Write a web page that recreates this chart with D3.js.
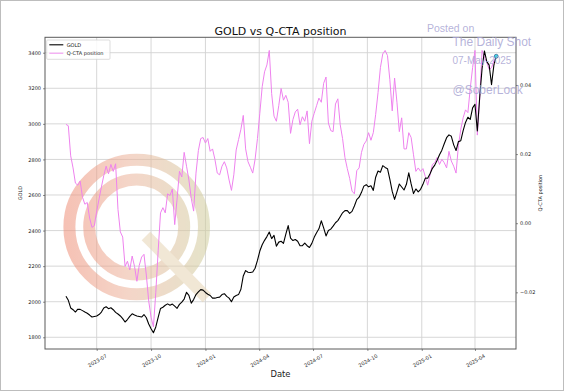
<!DOCTYPE html>
<html><head><meta charset="utf-8">
<script src="https://cdn.jsdelivr.net/npm/d3@7"></script>
<style>body{margin:0;background:#fff}svg{display:block}</style>
</head><body><svg id="c" width="564" height="391"></svg>
<script>
const dates = [
"2023-05-10","2023-05-14","2023-05-18","2023-05-22","2023-05-26","2023-05-30",
"2023-06-03","2023-06-07","2023-06-11","2023-06-15","2023-06-19","2023-06-23","2023-06-27",
"2023-07-01","2023-07-05","2023-07-09","2023-07-13","2023-07-17","2023-07-21","2023-07-25","2023-07-29",
"2023-08-02","2023-08-06","2023-08-10","2023-08-14","2023-08-18","2023-08-22","2023-08-26","2023-08-30",
"2023-09-03","2023-09-07","2023-09-11","2023-09-15","2023-09-19","2023-09-23","2023-09-27",
"2023-10-01","2023-10-05","2023-10-09","2023-10-13","2023-10-17","2023-10-21","2023-10-25","2023-10-29",
"2023-11-02","2023-11-06","2023-11-10","2023-11-14","2023-11-18","2023-11-22","2023-11-26","2023-11-30",
"2023-12-04","2023-12-08","2023-12-12","2023-12-16","2023-12-20","2023-12-24","2023-12-28",
"2024-01-01","2024-01-05","2024-01-09","2024-01-13","2024-01-17","2024-01-21","2024-01-25","2024-01-29",
"2024-02-02","2024-02-06","2024-02-10","2024-02-14","2024-02-18","2024-02-22","2024-02-26",
"2024-03-01","2024-03-05","2024-03-09","2024-03-13","2024-03-17","2024-03-21","2024-03-25","2024-03-29",
"2024-04-02","2024-04-06","2024-04-10","2024-04-14","2024-04-18","2024-04-22","2024-04-26","2024-04-30",
"2024-05-04","2024-05-08","2024-05-12","2024-05-16","2024-05-20","2024-05-24","2024-05-28",
"2024-06-01","2024-06-05","2024-06-09","2024-06-13","2024-06-17","2024-06-21","2024-06-25","2024-06-29",
"2024-07-03","2024-07-07","2024-07-11","2024-07-15","2024-07-19","2024-07-23","2024-07-27","2024-07-31",
"2024-08-04","2024-08-08","2024-08-12","2024-08-16","2024-08-20","2024-08-24","2024-08-28",
"2024-09-01","2024-09-05","2024-09-09","2024-09-13","2024-09-17","2024-09-21","2024-09-25","2024-09-29",
"2024-10-03","2024-10-07","2024-10-11","2024-10-15","2024-10-19","2024-10-23","2024-10-27","2024-10-31",
"2024-11-04","2024-11-08","2024-11-12","2024-11-16","2024-11-20","2024-11-24","2024-11-28",
"2024-12-02","2024-12-06","2024-12-10","2024-12-14","2024-12-18","2024-12-22","2024-12-26","2024-12-30",
"2025-01-03","2025-01-07","2025-01-11","2025-01-15","2025-01-19","2025-01-23","2025-01-27","2025-01-31",
"2025-02-04","2025-02-08","2025-02-12","2025-02-16","2025-02-20","2025-02-24","2025-02-28",
"2025-03-04","2025-03-08","2025-03-12","2025-03-16","2025-03-20","2025-03-24","2025-03-28",
"2025-04-01","2025-04-05","2025-04-09","2025-04-13","2025-04-17","2025-04-21","2025-04-25","2025-04-29",
"2025-05-03","2025-05-07"];

const goldValues = [
2031,2008,1965,1955,1942,1958,1957,1950,1942,1935,
1925,1914,1917,1920,1928,1942,1965,1972,1961,1966,
1955,1940,1931,1920,1905,1886,1900,1918,1932,1925,
1920,1917,1914,1928,1910,1875,1848,1826,1858,1912,
1962,1969,1980,1988,1980,1987,1975,1963,1985,1998,
2015,2053,2036,1992,2012,2040,2055,2068,2065,2052,
2042,2035,2020,2020,2024,2026,2040,2045,2030,2020,
2000,2027,2035,2040,2070,2145,2175,2166,2164,2167,
2188,2232,2285,2320,2345,2366,2392,2355,2373,2312,
2335,2340,2328,2380,2428,2358,2344,2350,2340,2315,
2315,2330,2315,2305,2328,2362,2388,2410,2455,2415,
2370,2400,2408,2425,2444,2456,2478,2500,2512,2512,
2497,2508,2538,2574,2588,2615,2650,2658,2646,2652,
2626,2700,2735,2728,2765,2755,2748,2688,2620,2575,
2618,2662,2645,2628,2660,2725,2662,2608,2634,2618,
2632,2660,2695,2694,2720,2750,2768,2795,2826,2852,
2888,2922,2938,2930,2882,2850,2900,2905,2962,3008,
3037,3025,3090,3110,2960,3150,3310,3410,3350,3330,
3220,3330,3380];

const qctaValues = [
0.0286,0.0282,0.0195,0.0160,0.0116,0.0110,0.0122,0.0075,0.0055,0.0060,
0.0015,-0.0012,-0.0007,0.0035,0.0070,0.0105,0.0138,0.0165,0.0143,0.0170,
0.0150,0.0172,0.0040,-0.0025,-0.0040,-0.0125,-0.0110,-0.0135,-0.0095,-0.0125,
-0.0168,-0.0122,-0.0098,-0.0090,-0.0150,-0.0225,-0.0272,-0.0300,-0.0200,-0.0080,
0.0030,0.0045,0.0030,0.0085,0.0080,0.0099,-0.0004,0.0070,0.0150,0.0134,
0.0205,0.0165,0.0125,0.0072,0.0035,0.0145,0.0210,0.0245,0.0248,0.0232,
0.0245,0.0208,0.0215,0.0185,0.0145,0.0140,0.0165,0.0178,0.0160,0.0125,
0.0095,0.0140,0.0212,0.0242,0.0272,0.0312,0.0215,0.0178,0.0162,0.0145,
0.0185,0.0245,0.0318,0.0395,0.0438,0.0458,0.0500,0.0375,0.0310,0.0295,
0.0340,0.0390,0.0356,0.0370,0.0350,0.0260,0.0300,0.0322,0.0330,0.0285,
0.0308,0.0295,0.0325,0.0230,0.0295,0.0318,0.0340,0.0362,0.0350,0.0405,
0.0423,0.0290,0.0268,0.0265,0.0345,0.0360,0.0285,0.0245,0.0190,0.0158,
0.0130,0.0093,0.0085,0.0152,0.0160,0.0205,0.0228,0.0238,0.0262,0.0240,
0.0262,0.0315,0.0378,0.0450,0.0490,0.0500,0.0485,0.0415,0.0325,0.0420,
0.0350,0.0265,0.0305,0.0215,0.0215,0.0262,0.0248,0.0198,0.0150,0.0160,
0.0150,0.0158,0.0135,0.0110,0.0140,0.0170,0.0175,0.0190,0.0170,0.0185,
0.0175,0.0160,0.0208,0.0180,0.0165,0.0145,0.0225,0.0272,0.0305,0.0328,
0.0320,0.0390,0.0450,0.0500,0.0255,0.0360,0.0500,0.0480,0.0465,0.0445,
0.0450,0.0470,0.0481];

const goldTicks = [1800,2000,2200,2400,2600,2800,3000,3200,3400];
const qctaTicks = [-0.02,0,0.02,0.04];
const dateTicks = ["2023-07-01","2023-10-01","2024-01-01","2024-04-01","2024-07-01","2024-10-01","2025-01-01","2025-04-01"];
const seriesNames = ["GOLD","Q-CTA position"];

// ---- layout ----
const W = 564, H = 391;
const L = 45, R = 516, T = 37.3, B = 349;
const FONT = "DejaVu Sans, sans-serif";
const WM = "Liberation Sans, Arial, sans-serif";

const parse = d3.utcParse("%Y-%m-%d");
const data = dates.map((d,i)=>({date: parse(d), gold: goldValues[i], q: qctaValues[i]}));

const x = d3.scaleUtc()
  .domain([new Date(Date.UTC(2023,3,4,13)), new Date(Date.UTC(2025,5,9,10))])
  .range([L, R]);
const yG = d3.scaleLinear().domain([1734.2, 3486.6]).range([B, T]);
const yQ = d3.scaleLinear().domain([-0.0364, 0.0538]).range([B, T]);

const svg = d3.select("#c");
svg.append("rect").attr("x",0).attr("y",0).attr("width",W).attr("height",H).attr("fill","#fff");
svg.append("rect").attr("x",0.5).attr("y",0.5).attr("width",W-1).attr("height",H-1)
  .attr("fill","none").attr("stroke","#bdbdbd").attr("stroke-width",1);

const defs = svg.append("defs");
defs.append("clipPath").attr("id","plot").append("rect")
  .attr("x",L).attr("y",T).attr("width",R-L).attr("height",B-T);
const grad = defs.append("linearGradient").attr("id","wmg")
  .attr("gradientUnits","userSpaceOnUse").attr("x1",63).attr("y1",0).attr("x2",212).attr("y2",0);
grad.append("stop").attr("offset","0%").attr("stop-color","#ef8f78");
grad.append("stop").attr("offset","45%").attr("stop-color","#ecb49c");
grad.append("stop").attr("offset","100%").attr("stop-color","#cfcf9e");

// grid
const grid = svg.append("g");
grid.selectAll("line.h").data(goldTicks).join("line")
  .attr("x1",L).attr("x2",R).attr("y1",d=>yG(d)).attr("y2",d=>yG(d))
  .attr("stroke","#d2d2d2").attr("stroke-width",0.9);
grid.selectAll("line.v").data(dateTicks).join("line")
  .attr("y1",T).attr("y2",B).attr("x1",d=>x(parse(d))).attr("x2",d=>x(parse(d)))
  .attr("stroke","#d2d2d2").attr("stroke-width",0.9);

// watermark logo
const logo = svg.append("g").attr("opacity",0.55);
logo.append("circle").attr("cx",136.7).attr("cy",227).attr("r",67.3)
  .attr("fill","none").attr("stroke","url(#wmg)").attr("stroke-width",12);
logo.append("circle").attr("cx",136.7).attr("cy",227).attr("r",47.5)
  .attr("fill","none").attr("stroke","url(#wmg)").attr("stroke-width",12);
logo.append("line").attr("x1",146).attr("y1",236).attr("x2",207).attr("y2",298)
  .attr("stroke","#e6d4b4").attr("stroke-width",12);

// lines
const plot = svg.append("g").attr("clip-path","url(#plot)");
plot.append("path").datum(data)
  .attr("fill","none").attr("stroke","#ee82ee").attr("stroke-width",1)
  .attr("stroke-linejoin","round")
  .attr("d", d3.line().x(d=>x(d.date)).y(d=>yQ(d.q)));
plot.append("path").datum(data)
  .attr("fill","none").attr("stroke","#000").attr("stroke-width",1.1)
  .attr("stroke-linejoin","round")
  .attr("d", d3.line().x(d=>x(d.date)).y(d=>yG(d.gold)));
const last = data[data.length-1];
plot.append("circle").attr("cx",x(last.date)).attr("cy",yG(last.gold)).attr("r",2)
  .attr("fill","#3fd6e6").attr("stroke","#1a2a6a").attr("stroke-width",0.5);

// spines
svg.append("rect").attr("x",L).attr("y",T).attr("width",R-L).attr("height",B-T)
  .attr("fill","none").attr("stroke","#5a5a5a").attr("stroke-width",1);

// axes
function styleAxis(g){
  g.select(".domain").remove();
  g.selectAll(".tick line").attr("stroke","#444").attr("stroke-width",0.6);
  g.selectAll("text").attr("font-family",FONT).attr("font-size",5).attr("fill","#222");
}
svg.append("g").attr("transform",`translate(${L},0)`)
  .call(d3.axisLeft(yG).tickValues(goldTicks).tickSize(2).tickPadding(2).tickFormat(d3.format("d")))
  .call(styleAxis);
svg.append("g").attr("transform",`translate(${R},0)`)
  .call(d3.axisRight(yQ).tickValues(qctaTicks).tickSize(2).tickPadding(2).tickFormat(d3.format(".2f")))
  .call(styleAxis);
const xa = svg.append("g").attr("transform",`translate(0,${B})`)
  .call(d3.axisBottom(x).tickValues(dateTicks.map(parse)).tickSize(2).tickFormat(d3.utcFormat("%Y-%m")))
  .call(styleAxis);
xa.selectAll(".tick text").attr("y",0).attr("dy",null)
  .attr("dominant-baseline","central").attr("text-anchor","middle")
  .attr("transform","translate(0,11.5) rotate(-30)");

// labels
svg.append("text").attr("x",(L+R)/2).attr("y",35).attr("text-anchor","middle")
  .attr("font-family",FONT).attr("font-size",11).attr("fill","#111").text("GOLD vs Q-CTA position");
svg.append("text").attr("x",(L+R)/2).attr("y",377.3).attr("text-anchor","middle")
  .attr("font-family",FONT).attr("font-size",8.4).attr("fill","#222").text("Date");
svg.append("text").attr("transform",`translate(22,${(T+B)/2}) rotate(-90)`).attr("text-anchor","middle")
  .attr("font-family",FONT).attr("font-size",5).attr("fill","#222").text(seriesNames[0]);
svg.append("text").attr("transform",`translate(542,${(T+B)/2}) rotate(-90)`).attr("text-anchor","middle")
  .attr("font-family",FONT).attr("font-size",5).attr("fill","#222").text(seriesNames[1]);

// legend
const lg = svg.append("g");
lg.append("rect").attr("x",46.7).attr("y",40).attr("width",63.3).attr("height",19.3).attr("rx",1)
  .attr("fill","#fff").attr("fill-opacity",0.85).attr("stroke","#cfcfcf").attr("stroke-width",0.7);
const legendColors = ["#000","#ee82ee"];
seriesNames.forEach((n,i)=>{
  const yy = 44.8 + i*8.4;
  lg.append("line").attr("x1",49.3).attr("x2",63.3).attr("y1",yy).attr("y2",yy)
    .attr("stroke",legendColors[i]).attr("stroke-width",i?0.9:1.1);
  lg.append("text").attr("x",66.7).attr("y",yy).attr("dominant-baseline","central")
    .attr("font-family",FONT).attr("font-size",5).attr("fill","#222").text(n);
});

// watermark text
const wm = svg.append("g").attr("fill","#a9a5d3").attr("fill-opacity",0.85).attr("font-family",WM);
wm.append("text").attr("x",427).attr("y",32).attr("font-size",10.5).text("Posted on");
wm.append("text").attr("x",452.5).attr("y",46).attr("font-size",12).text("The Daily Shot");
wm.append("text").attr("x",452.5).attr("y",64).attr("font-size",10).text("07-May-2025");
wm.append("text").attr("x",452.5).attr("y",93.5).attr("font-size",12).text("@SoberLook");
</script></body></html>
